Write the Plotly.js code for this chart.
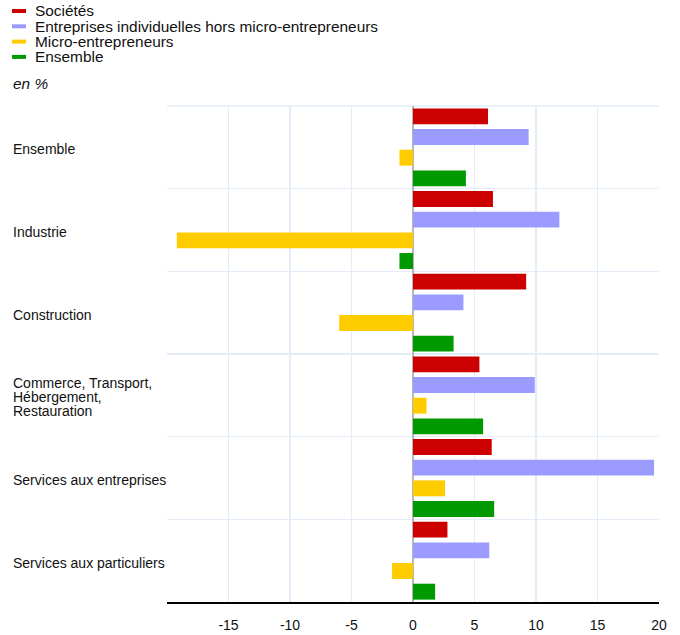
<!DOCTYPE html>
<html><head><meta charset="utf-8">
<script src="https://cdn.plot.ly/plotly-3.0.1.min.js"></script>
<style>body{margin:0;background:#fff}#chart{width:680px;height:635px}</style>
</head><body><div id="chart"></div>
<script>
const categories = ["Ensemble","Industrie","Construction","Commerce, Transport,<br>Hébergement,<br>Restauration","Services aux entreprises","Services aux particuliers"];
const seriesNames = ["Sociétés","Entreprises individuelles hors micro-entrepreneurs","Micro-entrepreneurs","Ensemble"];
const seriesColors = ["#cc0000","#9b9bff","#ffcc00","#009900"];
const societes = [6.1, 6.5, 9.2, 5.4, 6.4, 2.8];
const entIndiv = [9.4, 11.9, 4.1, 9.9, 19.6, 6.2];
const micro = [-1.1, -19.2, -6.0, 1.1, 2.6, -1.7];
const ensemble = [4.3, -1.1, 3.3, 5.7, 6.6, 1.8];
const xTicks = [-15,-10,-5,0,5,10,15,20];
const unitLabel = "en %";

const seriesValues = [societes, entIndiv, micro, ensemble];
const W = 680, H = 635;
const M = {l:167, r:21, t:106, b:33};
const pw = W - M.l - M.r, ph = H - M.t - M.b;
const px = x => (x - M.l) / pw;
const py = y => (H - M.b - y) / ph;
const font = "Liberation Sans, Arial, sans-serif";
const grid = "#e3ecf7";

const traces = seriesValues.map((vals, i) => ({
  type: "bar", orientation: "h", name: seriesNames[i],
  x: vals, y: categories, marker: {color: seriesColors[i]},
  showlegend: false, hoverinfo: "x+name"
}));

const annotations = [];
const shapes = [{type:"line", xref:"paper", yref:"paper", x0:0, x1:1, y0:1, y1:1, line:{color:grid, width:1.5}, layer:"below"}];
seriesNames.forEach((n, i) => {
  const yc = 11 + i * 15.3;
  annotations.push({xref:"paper", yref:"paper", x:px(33), y:py(yc), xanchor:"left", yanchor:"middle",
    text:n, showarrow:false, font:{family:font, size:15.4, color:"#111"}});
  shapes.push({type:"line", xref:"paper", yref:"paper", x0:px(12), x1:px(26), y0:py(yc), y1:py(yc),
    line:{color:seriesColors[i], width:4}});
});
annotations.push({xref:"paper", yref:"paper", x:px(11), y:py(83), xanchor:"left", yanchor:"middle",
  text:"<i>"+unitLabel+"</i>", showarrow:false, font:{family:font, size:15.4, color:"#111"}});
categories.forEach(c => {
  const lines = c.split("<br>");
  lines.forEach((ln, k) => {
    annotations.push({xref:"paper", yref:"y", x:px(11), y:c, xanchor:"left", yanchor:"middle", align:"left",
      yshift: -2 - (k - (lines.length - 1) / 2) * 14,
      text:ln, showarrow:false, font:{family:font, size:14, color:"#111"}});
  });
});

const layout = {
  width: W, height: H, margin: M, paper_bgcolor:"#fff", plot_bgcolor:"#fff",
  barmode:"group", bargap:0, bargroupgap:0.23,
  font:{family:font, size:14, color:"#111"},
  xaxis:{range:[-20,20], tickvals:xTicks, ticktext:xTicks.map(String), showgrid:true, gridcolor:grid, gridwidth:1.5,
    zeroline:true, zerolinecolor:"#b8b8b8", zerolinewidth:1.5, showline:true, linecolor:"#000", linewidth:1.5,
    ticks:"", ticklabelstandoff:10, tickfont:{family:font, size:14, color:"#111"}, fixedrange:true},
  yaxis:{type:"category", autorange:"reversed", showticklabels:false, tickson:"boundaries", ticks:"",
    showgrid:true, gridcolor:grid, gridwidth:1.5, zeroline:false, showline:false, fixedrange:true},
  annotations, shapes, showlegend:false
};
Plotly.newPlot("chart", traces, layout, {displayModeBar:false, staticPlot:true});
</script></body></html>
